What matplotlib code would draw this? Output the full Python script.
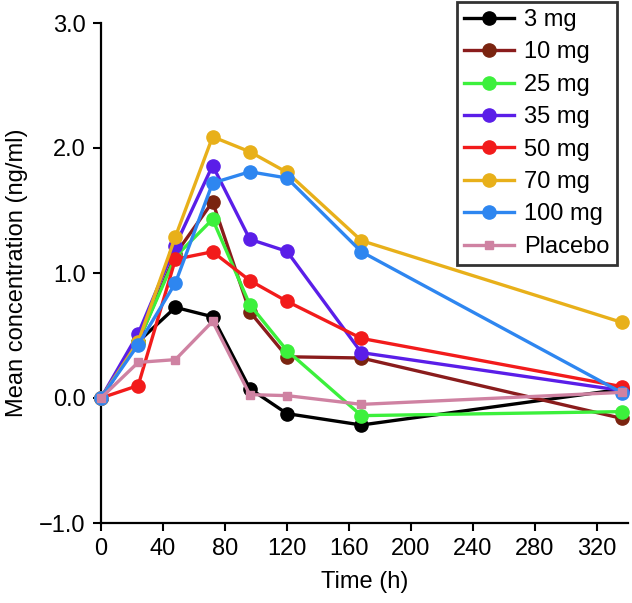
import matplotlib
matplotlib.use("Agg")
import matplotlib.pyplot as plt

plt.rcParams['font.family'] = ['Liberation Sans', 'DejaVu Sans']

times = [0, 24, 48, 72, 96, 120, 168, 336]
labels = ["3 mg", "10 mg", "25 mg", "35 mg", "50 mg", "70 mg", "100 mg", "Placebo"]
mg3 = [0.0, 0.45, 0.725, 0.65, 0.075, -0.125, -0.216, 0.07]
mg10 = [0.0, 0.45, 1.15, 1.57, 0.69, 0.33, 0.32, -0.163]
mg25 = [0.0, 0.45, 1.13, 1.43, 0.747, 0.379, -0.141, -0.109]
mg35 = [0.0, 0.515, 1.22, 1.86, 1.27, 1.173, 0.363, 0.06]
mg50 = [0.0, 0.10, 1.11, 1.17, 0.94, 0.773, 0.477, 0.091]
mg70 = [0.0, 0.45, 1.29, 2.09, 1.97, 1.805, 1.259, 0.605]
mg100 = [0.0, 0.427, 0.92, 1.72, 1.81, 1.76, 1.17, 0.043]
placebo = [0.0, 0.285, 0.307, 0.613, 0.027, 0.019, -0.051, 0.045]

series = [mg3, mg10, mg25, mg35, mg50, mg70, mg100, placebo]
line_colors = ["#000000", "#8a1c1c", "#3cf03c", "#5a1ee8", "#f21b1b", "#e8b01a", "#2e86f0", "#cf82a2"]
marker_colors = ["#000000", "#7a2410", "#3cf03c", "#5a1ee8", "#f21b1b", "#e8b01a", "#2e86f0", "#cf82a2"]

fig = plt.figure(figsize=(6.32, 6.03), dpi=100)
ax = fig.add_axes([101/632, 80/603, (628-101)/632, 500/603])

for ys, lab, lc, mc in zip(series, labels, line_colors, marker_colors):
    if lab == "Placebo":
        ax.plot(times, ys, color=lc, lw=2.4, marker='s', ms=6, mfc=mc, mec=mc,
                label=lab, clip_on=False, zorder=3)
    else:
        ax.plot(times, ys, color=lc, lw=2.4, marker='o', ms=9.5, mfc=mc, mec=mc,
                label=lab, clip_on=False, zorder=3)

ax.set_xlim(0, 340)
ax.set_ylim(-1.0, 3.0)
ax.set_xticks(range(0, 321, 40))
ax.set_yticks([-1.0, 0.0, 1.0, 2.0, 3.0])
ax.set_yticklabels(["\u22121.0", "0.0", "1.0", "2.0", "3.0"])
for s in ["top", "right"]:
    ax.spines[s].set_visible(False)
for s in ["left", "bottom"]:
    ax.spines[s].set_linewidth(1.6)
ax.tick_params(direction='out', length=6, width=1.5, labelsize=17, pad=5)
ax.set_xlabel("Time (h)", fontsize=17, labelpad=8)
ax.set_ylabel("Mean concentration (ng/ml)", fontsize=17, labelpad=8)

leg = fig.legend(loc='upper left', bbox_to_anchor=(457/632, 1 - 2/603),
                 fontsize=17, frameon=True, fancybox=False, edgecolor='black',
                 handlelength=2.1, handletextpad=0.45, borderpad=0.3,
                 labelspacing=0.44, borderaxespad=0)
leg.get_frame().set_linewidth(2)

fig.savefig("out.png", dpi=100)
